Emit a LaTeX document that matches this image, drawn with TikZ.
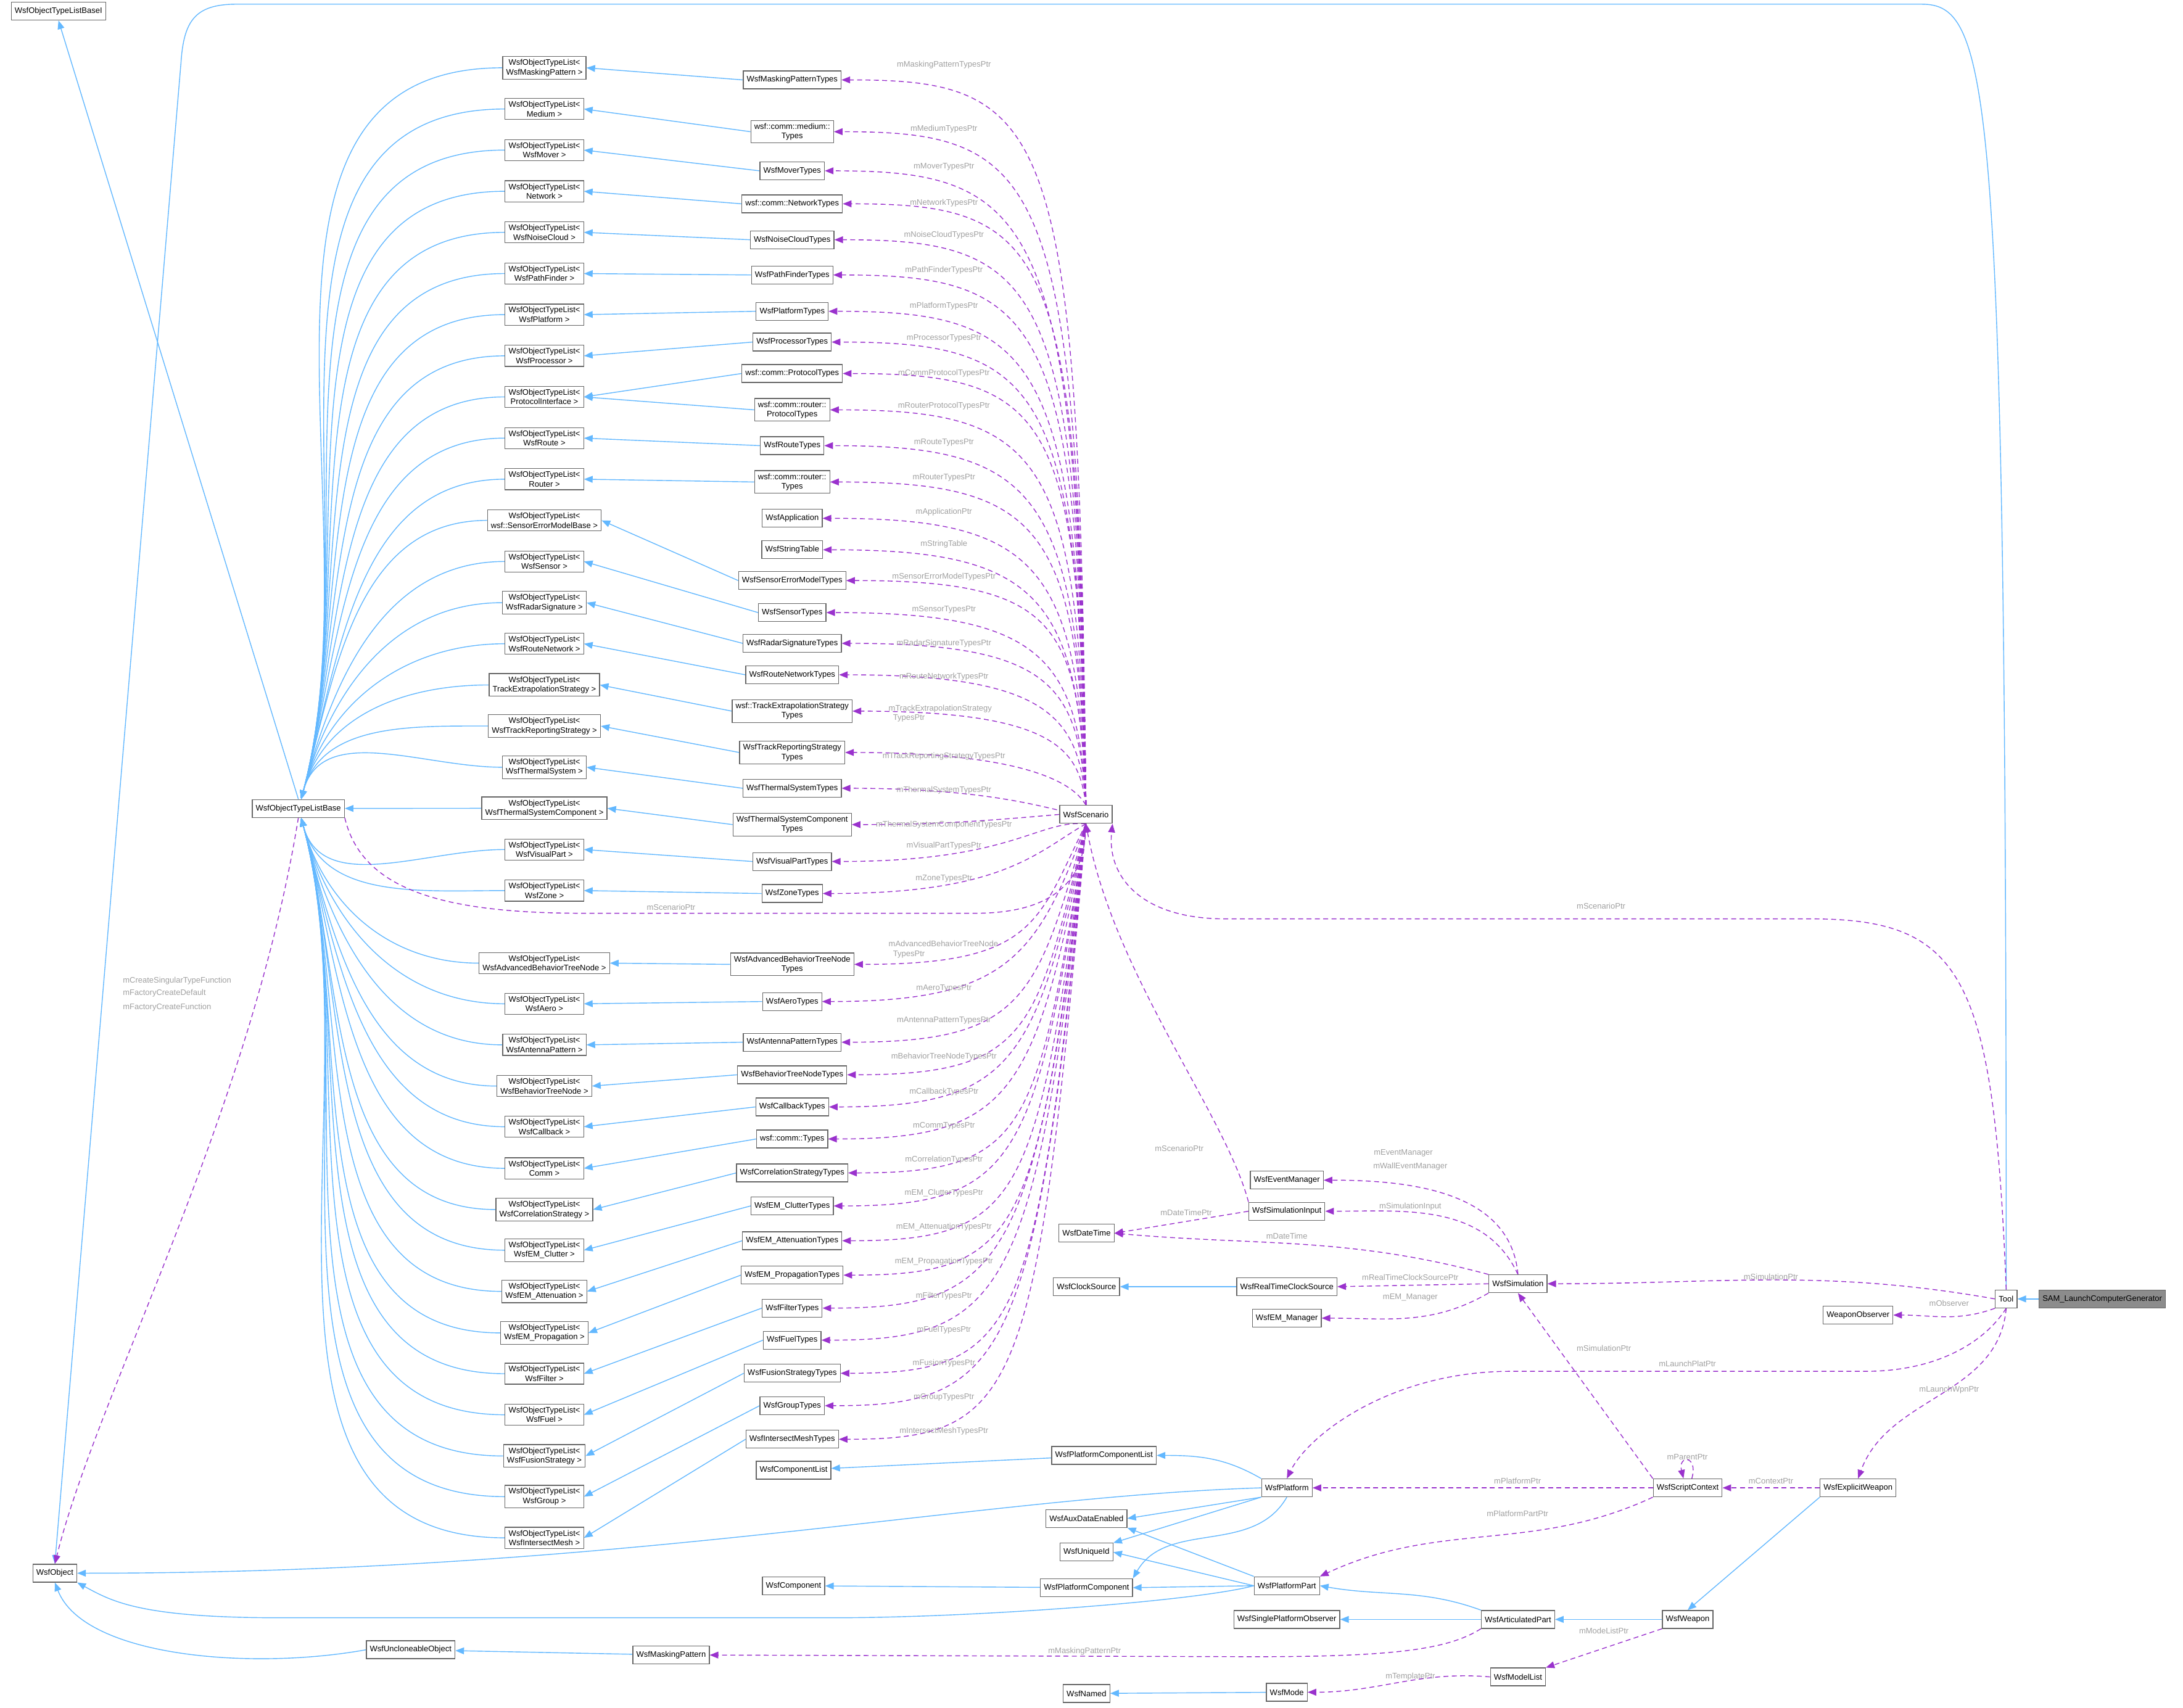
\documentclass[tikz,border=0pt]{standalone}
\usepackage{fontspec}
\setmainfont{Liberation Sans}
\usetikzlibrary{arrows.meta,calc,backgrounds}
\definecolor{inhc}{HTML}{63B8FF}
\definecolor{depc}{HTML}{9A32CD}
\definecolor{labc}{HTML}{A0A0A0}
\newcommand{\ff}{\fontsize{3.7}{4.4}\selectfont}
\begin{document}
\begin{tikzpicture}[x=0.2257mm,y=-0.2257mm,
 box/.style={draw=black!60,fill=white,line width=0.35pt,inner xsep=1.6pt,inner ysep=1.3pt,minimum height=2.9mm,align=center,font=\ff},
 gbox/.style={box,fill=black!45},
 inh/.style={draw=inhc,line width=0.4pt,-{Triangle[length=1.4mm,width=1.1mm]}},
 dep/.style={draw=depc,line width=0.4pt,dash pattern=on 0.8mm off 0.55mm,-{Triangle[length=1.4mm,width=1.1mm]}},
 lab/.style={text=labc,font=\ff,inner sep=0pt,align=center}]
\useasboundingbox (0,0) rectangle (1568,1226.4);
% left
\node[box] (bI) at (42,8) {WsfObjectTypeListBaseI};
\node[box] (base) at (214.3,580.7) {WsfObjectTypeListBase};
\node[box] (obj) at (39.4,1130) {WsfObject};
% templates
\node[box] (t0) at (391,48.7) {WsfObjectTypeList<\\WsfMaskingPattern >};
\node[box] (t1) at (391,78.3) {WsfObjectTypeList<\\Medium >};
\node[box] (t2) at (391,107.8) {WsfObjectTypeList<\\WsfMover >};
\node[box] (t3) at (391,137.4) {WsfObjectTypeList<\\Network >};
\node[box] (t4) at (391,166.9) {WsfObjectTypeList<\\WsfNoiseCloud >};
\node[box] (t5) at (391,196.5) {WsfObjectTypeList<\\WsfPathFinder >};
\node[box] (t6) at (391,226) {WsfObjectTypeList<\\WsfPlatform >};
\node[box] (t7) at (391,255.6) {WsfObjectTypeList<\\WsfProcessor >};
\node[box] (t8) at (391,285.1) {WsfObjectTypeList<\\ProtocolInterface >};
\node[box] (t9) at (391,314.7) {WsfObjectTypeList<\\WsfRoute >};
\node[box] (t10) at (391,344.2) {WsfObjectTypeList<\\Router >};
\node[box] (t11) at (391,373.8) {WsfObjectTypeList<\\wsf::SensorErrorModelBase >};
\node[box] (t12) at (391,403.3) {WsfObjectTypeList<\\WsfSensor >};
\node[box] (t13) at (391,432.9) {WsfObjectTypeList<\\WsfRadarSignature >};
\node[box] (t14) at (391,462.4) {WsfObjectTypeList<\\WsfRouteNetwork >};
\node[box] (t15) at (391,492) {WsfObjectTypeList<\\TrackExtrapolationStrategy >};
\node[box] (t16) at (391,521.5) {WsfObjectTypeList<\\WsfTrackReportingStrategy >};
\node[box] (t17) at (391,551.1) {WsfObjectTypeList<\\WsfThermalSystem >};
\node[box] (t18) at (391,580.6) {WsfObjectTypeList<\\WsfThermalSystemComponent >};
\node[box] (t19) at (391,610.2) {WsfObjectTypeList<\\WsfVisualPart >};
\node[box] (t20) at (391,639.7) {WsfObjectTypeList<\\WsfZone >};
\node[box] (t21) at (391,691.8) {WsfObjectTypeList<\\WsfAdvancedBehaviorTreeNode >};
\node[box] (t22) at (391,721) {WsfObjectTypeList<\\WsfAero >};
\node[box] (t23) at (391,750.5) {WsfObjectTypeList<\\WsfAntennaPattern >};
\node[box] (t24) at (391,780.1) {WsfObjectTypeList<\\WsfBehaviorTreeNode >};
\node[box] (t25) at (391,809.3) {WsfObjectTypeList<\\WsfCallback >};
\node[box] (t26) at (391,839.2) {WsfObjectTypeList<\\Comm >};
\node[box] (t27) at (391,868.8) {WsfObjectTypeList<\\WsfCorrelationStrategy >};
\node[box] (t28) at (391,898) {WsfObjectTypeList<\\WsfEM\_Clutter >};
\node[box] (t29) at (391,927.6) {WsfObjectTypeList<\\WsfEM\_Attenuation >};
\node[box] (t30) at (391,957.4) {WsfObjectTypeList<\\WsfEM\_Propagation >};
\node[box] (t31) at (391,986.7) {WsfObjectTypeList<\\WsfFilter >};
\node[box] (t32) at (391,1016.2) {WsfObjectTypeList<\\WsfFuel >};
\node[box] (t33) at (391,1045.8) {WsfObjectTypeList<\\WsfFusionStrategy >};
\node[box] (t34) at (391,1075) {WsfObjectTypeList<\\WsfGroup >};
\node[box] (t35) at (391,1104.6) {WsfObjectTypeList<\\WsfIntersectMesh >};
% types
\node[box] (y0) at (569,57.4) {WsfMaskingPatternTypes};
\node[box] (y1) at (569,94.6) {wsf::comm::medium::\\Types};
\node[box] (y2) at (569,122.7) {WsfMoverTypes};
\node[box] (y3) at (569,146.4) {wsf::comm::NetworkTypes};
\node[box] (y4) at (569,172.2) {WsfNoiseCloudTypes};
\node[box] (y5) at (569,197.5) {WsfPathFinderTypes};
\node[box] (y6) at (569,223.6) {WsfPlatformTypes};
\node[box] (y7) at (569,245.7) {WsfProcessorTypes};
\node[box] (y8) at (569,268.3) {wsf::comm::ProtocolTypes};
\node[box] (y9) at (569,294.4) {wsf::comm::router::\\ProtocolTypes};
\node[box] (y10) at (569,320.1) {WsfRouteTypes};
\node[box] (y11) at (569,346.2) {wsf::comm::router::\\Types};
\node[box] (y12) at (569,372.3) {WsfApplication};
\node[box] (y13) at (569,394.9) {WsfStringTable};
\node[box] (y14) at (569,417) {WsfSensorErrorModelTypes};
\node[box] (y15) at (569,440) {WsfSensorTypes};
\node[box] (y16) at (569,462.1) {WsfRadarSignatureTypes};
\node[box] (y17) at (569,484.7) {WsfRouteNetworkTypes};
\node[box] (y18) at (569,510.8) {wsf::TrackExtrapolationStrategy\\Types};
\node[box] (y19) at (569,540.5) {WsfTrackReportingStrategy\\Types};
\node[box] (y20) at (569,566.2) {WsfThermalSystemTypes};
\node[box] (y21) at (569,592.3) {WsfThermalSystemComponent\\Types};
\node[box] (y22) at (569,618.8) {WsfVisualPartTypes};
\node[box] (y23) at (569,641.8) {WsfZoneTypes};
\node[box] (y24) at (569,692.7) {WsfAdvancedBehaviorTreeNode\\Types};
\node[box] (y25) at (569,719.4) {WsfAeroTypes};
\node[box] (y26) at (569,748.6) {WsfAntennaPatternTypes};
\node[box] (y27) at (569,772) {WsfBehaviorTreeNodeTypes};
\node[box] (y28) at (569,795.1) {WsfCallbackTypes};
\node[box] (y29) at (569,818.1) {wsf::comm::Types};
\node[box] (y30) at (569,842.5) {WsfCorrelationStrategyTypes};
\node[box] (y31) at (569,866.2) {WsfEM\_ClutterTypes};
\node[box] (y32) at (569,891.2) {WsfEM\_AttenuationTypes};
\node[box] (y33) at (569,915.9) {WsfEM\_PropagationTypes};
\node[box] (y34) at (569,939.6) {WsfFilterTypes};
\node[box] (y35) at (569,962.6) {WsfFuelTypes};
\node[box] (y36) at (569,986.4) {WsfFusionStrategyTypes};
\node[box] (y37) at (569,1009.7) {WsfGroupTypes};
\node[box] (y38) at (569,1033.8) {WsfIntersectMeshTypes};
\node[box] (cl) at (570,1056) {WsfComponentList};
\node[box] (comp) at (570,1139) {WsfComponent};
\node[box] (sc) at (780,585) {WsfScenario};
% right
\node[box] (ev) at (924.3,847.7) {WsfEventManager};
\node[box] (si) at (924.3,870) {WsfSimulationInput};
\node[box] (dt) at (780.4,885.8) {WsfDateTime};
\node[box] (cs) at (780.4,924.2) {WsfClockSource};
\node[box] (rtc) at (924.3,924.2) {WsfRealTimeClockSource};
\node[box] (em) at (924.3,946.8) {WsfEM\_Manager};
\node[box] (sim) at (1090.3,922.1) {WsfSimulation};
\node[box] (tool) at (1441,933) {Tool};
\node[gbox] (sam) at (1510,933) {SAM\_LaunchComputerGenerator};
\node[box] (wo) at (1334.6,944.6) {WeaponObserver};
\node[box] (pcl) at (793,1045.4) {WsfPlatformComponentList};
\node[box] (pl) at (924.3,1068.7) {WsfPlatform};
\node[box] (ctx) at (1212.2,1068.7) {WsfScriptContext};
\node[box] (ew) at (1334.6,1068.7) {WsfExplicitWeapon};
\node[box] (aux) at (780.4,1090.7) {WsfAuxDataEnabled};
\node[box] (uid) at (780.4,1114.9) {WsfUniqueId};
\node[box] (pc) at (780.4,1140.4) {WsfPlatformComponent};
\node[box] (pp) at (924.3,1139) {WsfPlatformPart};
\node[box] (spo) at (924.3,1163.2) {WsfSinglePlatformObserver};
\node[box] (ap) at (1090.3,1163.2) {WsfArticulatedPart};
\node[box] (wp) at (1212.2,1163.2) {WsfWeapon};
\node[box] (ml) at (1090.3,1204.5) {WsfModelList};
\node[box] (md) at (924.3,1215.5) {WsfMode};
\node[box] (nm) at (780.4,1216.4) {WsfNamed};
\node[box] (unc) at (295,1185) {WsfUncloneableObject};
\node[box] (mp) at (482,1188.8) {WsfMaskingPattern};
\begin{pgfonlayer}{background}
% inheritance: types -> templates
\foreach \a/\b in {0/0,1/1,2/2,3/3,4/4,5/5,6/6,7/7,8/8,9/8,10/9,11/10,14/11,15/12,16/13,17/14,18/15,19/16,20/17,21/18,22/19,23/20,24/21,25/22,26/23,27/24,28/25,29/26,30/27,31/28,32/29,33/30,34/31,35/32,36/33,37/34,38/35}
  \draw[inh] (y\a.west) -- (t\b.east);
% templates -> base
\foreach \i in {0,...,17} \draw[inh] (t\i.west) to[out=180,in=75] ($(base.north)+(2,0)$);
\draw[inh] (t18.west) -- (base.east);
\foreach \i in {19,...,35} \draw[inh] (t\i.west) to[out=180,in=-75] ($(base.south)+(2,0)$);
\draw[inh] (base.north) -- (bI.south);
\draw[inh] (tool.north) .. controls (1441,60) and (1430,3) .. (1380,3) -- (170,3) .. controls (140,3) and (132,15) .. (130,45) -- (obj.north);
\draw[inh] (sam) -- (tool);
\draw[inh] (pl.west) .. controls (700,1075) and (450,1130) .. (obj.east);
\draw[inh] (pp.west) .. controls (860,1150) and (700,1162) .. (600,1162) -- (200,1162) .. controls (100,1162) and (80,1150) .. (obj.south east);
\draw[inh] (unc.west) .. controls (180,1200) and (60,1190) .. (obj.south);
\draw[inh] (mp) -- (unc);
\draw[inh] (pcl) -- (cl);
\draw[inh] (pc) -- (comp);
\draw[inh] (rtc) -- (cs);
\draw[inh] (pl.north west) to[out=150,in=0] (pcl.east);
\draw[inh] (pl.south west) -- (aux.east);
\draw[inh] (pl.south west) -- (uid.north east);
\draw[inh] (pl.south) to[out=-120,in=60] (pc.north east);
\draw[inh] (pp.north west) -- (aux.south east);
\draw[inh] (pp.west) -- (uid.east);
\draw[inh] (pp.west) -- (pc.east);
\draw[inh] (ap.north west) to[out=160,in=-10] (pp.east);
\draw[inh] (ap) -- (spo);
\draw[inh] (wp) -- (ap);
\draw[inh] (ew.south west) -- (wp.north);
\draw[inh] (md) -- (nm);
% scenario dependencies
\foreach \i in {0,...,20} \draw[dep] (sc.north) .. controls ($(sc.north |- y\i.east)+(-5,30)$) and ($(y\i.east)+(150,0)$) .. (y\i.east);
\draw[dep] (sc.west) to[out=185,in=0] (y21.east);
\foreach \i in {22,...,38} \draw[dep] (sc.south) .. controls ($(sc.south |- y\i.east)+(-35,-30)$) and ($(y\i.east)+(130,0)$) .. (y\i.east);
% other deps
\draw[dep] (base.south) .. controls (180,800) and (70,1000) .. (obj.north);
\draw[dep] (base.south east) .. controls (260,640) and (320,656) .. (420,656) -- (700,656) .. controls (760,656) and (778,630) .. (sc.south);
\draw[dep] (tool.north) .. controls (1432,700) and (1410,660) .. (1300,660) -- (880,660) .. controls (820,660) and (795,630) .. (sc.south east);
\draw[dep] (si.north west) .. controls (880,800) and (800,700) .. (sc.south);
\draw[dep] (sim.north) to[out=95,in=0] (ev.east);
\draw[dep] (sim.north) to[out=115,in=0] (si.east);
\draw[dep] (si.west) -- (dt.east);
\draw[dep] (sim.north west) to[out=165,in=-5] (dt.east);
\draw[dep] (sim.west) -- (rtc.east);
\draw[dep] (sim.south west) to[out=-150,in=0] (em.east);
\draw[dep] (tool.west) to[out=170,in=0] (sim.east);
\draw[dep] (tool.south west) to[out=-160,in=0] (wo.east);
\draw[dep] (tool.south) .. controls (1425,965) and (1390,985) .. (1340,985) -- (1085,985) .. controls (1000,985) and (940,1030) .. (pl.north);
\draw[dep] (tool.south) to[out=-95,in=70] (ew.north);
\draw[dep] (ctx.north west) -- (sim.south);
\draw[dep] (ctx.west) -- (pl.east);
\draw[dep] (ctx.south west) to[out=-155,in=25] (pp.north east);
\draw[dep] ($(ctx.north)+(3,0)$) .. controls (1220,1045) and (1205,1045) .. ($(ctx.north)+(-3,0)$);
\draw[dep] (ew.west) -- (ctx.east);
\draw[dep] (ap.south west) .. controls (1040,1185) and (1000,1190) .. (900,1190) -- (mp.east);
\draw[dep] (wp.south west) -- (ml.north east);
\draw[dep] (ml.west) to[out=175,in=0] (md.east);
\end{pgfonlayer}
% labels
\foreach \i/\yy/\t in {0/46.4/mMaskingPatternTypesPtr,1/92.6/mMediumTypesPtr,2/120/mMoverTypesPtr,3/145.7/mNetworkTypesPtr,4/169/mNoiseCloudTypesPtr,5/194.3/mPathFinderTypesPtr,6/220/mPlatformTypesPtr,7/243/mProcessorTypesPtr,8/268/mCommProtocolTypesPtr,9/291.6/mRouterProtocolTypesPtr,10/317.7/mRouteTypesPtr,11/343/mRouterTypesPtr,12/367.6/mApplicationPtr,13/391/mStringTable,14/414.3/mSensorErrorModelTypesPtr,15/438/mSensorTypesPtr,16/462.1/mRadarSignatureTypesPtr,17/485.9/mRouteNetworkTypesPtr,19/543.2/mTrackReportingStrategyTypesPtr,20/567.4/mThermalSystemTypesPtr,21/592.3/mThermalSystemComponentTypesPtr,22/607.7/mVisualPartTypesPtr,23/631/mZoneTypesPtr,25/710/mAeroTypesPtr,26/733/mAntennaPatternTypesPtr,27/759/mBehaviorTreeNodeTypesPtr,28/784.3/mCallbackTypesPtr,29/808.7/mCommTypesPtr,30/833/mCorrelationTypesPtr,31/857/mEM\_ClutterTypesPtr,32/881.4/mEM\_AttenuationTypesPtr,33/906.1/mEM\_PropagationTypesPtr,34/930.8/mFilterTypesPtr,35/955.2/mFuelTypesPtr,36/979.2/mFusionTypesPtr,37/1003.6/mGroupTypesPtr,38/1028/mIntersectMeshTypesPtr}
  \node[lab] (l\i) at (678,\yy) {\t};
\node[lab,anchor=north west,align=left] (l18) at (638,506) {mTrackExtrapolationStrategy\\ \ \ TypesPtr};
\node[lab,anchor=north west,align=left] (l24) at (638,675.5) {mAdvancedBehaviorTreeNode\\ \ \ TypesPtr};
\node[lab,anchor=west] (lf1) at (88,704.5) {mCreateSingularTypeFunction};
\node[lab,anchor=west] (lf2) at (88,713.6) {mFactoryCreateDefault};
\node[lab,anchor=west] (lf3) at (88,723.4) {mFactoryCreateFunction};
\node[lab] (lsp) at (482,651.8) {mScenarioPtr};
\node[lab] (lts) at (1150,651) {mScenarioPtr};
\node[lab] (lss) at (847,825) {mScenarioPtr};
\node[lab] (le1) at (1008,828.4) {mEventManager};
\node[lab] (le2) at (1013,838) {mWallEventManager};
\node[lab] (lsi) at (1013,866.5) {mSimulationInput};
\node[lab] (ldi) at (852,870.8) {mDateTimePtr};
\node[lab] (ldt) at (924.3,887.7) {mDateTime};
\node[lab] (lrt) at (1013,917.5) {mRealTimeClockSourcePtr};
\node[lab] (lem) at (1013,931.7) {mEM\_Manager};
\node[lab] (lts2) at (1272,917) {mSimulationPtr};
\node[lab] (lob) at (1400,936) {mObserver};
\node[lab] (llp) at (1212,979.5) {mLaunchPlatPtr};
\node[lab] (llw) at (1400,998.3) {mLaunchWpnPtr};
\node[lab] (lcs) at (1152,968.3) {mSimulationPtr};
\node[lab] (lcp) at (1090,1063.6) {mPlatformPtr};
\node[lab] (lcpp) at (1090,1087) {mPlatformPartPtr};
\node[lab] (lpar) at (1212,1046.7) {mParentPtr};
\node[lab] (lctx) at (1272,1063.6) {mContextPtr};
\node[lab] (lmp) at (779,1186) {mMaskingPatternPtr};
\node[lab] (lml) at (1152,1171.3) {mModeListPtr};
\node[lab] (ltp) at (1013,1204.5) {mTemplatePtr};
\end{tikzpicture}
\end{document}
